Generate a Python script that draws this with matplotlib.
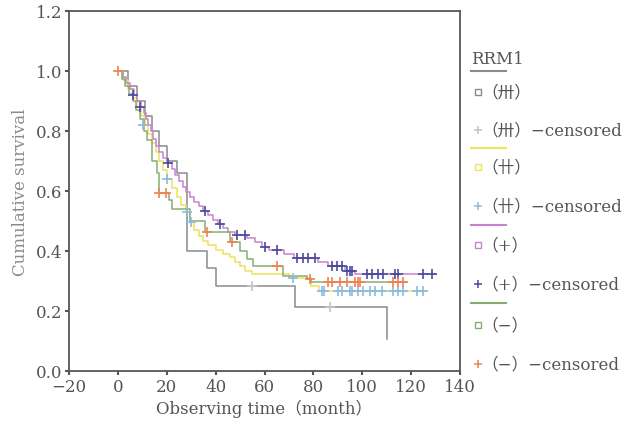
import matplotlib
matplotlib.use("Agg")
import matplotlib.pyplot as plt
from matplotlib.lines import Line2D
import numpy as np

# ---------------- data ----------------
groups = ["（卅）", "（卄）", "（+）", "（−）"]

# (卅)
t_g1 = [0, 4, 8, 11, 14, 17, 20, 24, 28.3, 36.4, 40.1, 72.4, 110]
s_g1 = [1.0, 0.95, 0.90, 0.85, 0.80, 0.75, 0.70, 0.66, 0.40, 0.343, 0.283, 0.213, 0.107]
ct_g1 = [54.8, 86.7]
cs_g1 = [0.283, 0.213]

# (卄)
t_g2 = [0, 2, 4, 6, 8, 9.5, 11, 12.5, 14, 15.5, 17, 18.5, 20, 22, 24, 26, 28, 29.5,
        31, 33, 35, 37, 40, 43, 46, 48, 50, 52, 55, 70, 79, 82.5, 126]
s_g2 = [1.0, 0.97, 0.94, 0.91, 0.88, 0.85, 0.82, 0.79, 0.76, 0.73, 0.70, 0.67, 0.64,
        0.61, 0.58, 0.555, 0.53, 0.497, 0.47, 0.45, 0.435, 0.42, 0.405, 0.39, 0.38,
        0.365, 0.35, 0.335, 0.322, 0.31, 0.283, 0.267, 0.267]
ct_g2 = [10.3, 20, 28.3, 29.9, 71.6, 83.5, 84.5, 90, 91.7, 95, 96, 98.2, 100.2, 103,
         105.2, 108, 112.5, 114.6, 116.6, 122.3, 124.8]
cs_g2 = [0.82, 0.64, 0.53, 0.497, 0.31, 0.267, 0.267, 0.267, 0.267, 0.267, 0.267,
         0.267, 0.267, 0.267, 0.267, 0.267, 0.267, 0.267, 0.267, 0.267, 0.267]

# (+)
t_g3 = [0, 2, 3.5, 5, 6.5, 8, 9.5, 10.5, 11.5, 12.5, 13.5, 14.5, 15.5, 17, 18.5, 20,
        22, 23.5, 25, 26.5, 28, 29.5, 31, 33, 35, 37, 39, 41, 43, 45, 48, 53, 56, 59,
        62, 68, 72, 82, 86, 93, 97, 130]
s_g3 = [1.0, 0.98, 0.96, 0.94, 0.92, 0.90, 0.88, 0.86, 0.84, 0.82, 0.80, 0.775, 0.75,
        0.73, 0.71, 0.695, 0.675, 0.655, 0.635, 0.615, 0.597, 0.58, 0.565, 0.55, 0.535,
        0.52, 0.505, 0.49, 0.478, 0.465, 0.455, 0.445, 0.43, 0.415, 0.405, 0.39, 0.378,
        0.365, 0.35, 0.335, 0.323, 0.323]
ct_g3 = [6, 9, 20.5, 35.6, 41.8, 48.7, 52, 60, 65, 73.3, 75.8, 77.8, 80.6, 87.5, 89.6,
         91.7, 93.7, 95, 96, 102, 104, 106.4, 108.4, 113.3, 114.6, 124.8, 128.5]
cs_g3 = [0.92, 0.88, 0.695, 0.535, 0.49, 0.455, 0.455, 0.415, 0.405, 0.378, 0.378,
         0.378, 0.378, 0.35, 0.35, 0.35, 0.335, 0.335, 0.335, 0.323, 0.323, 0.323,
         0.323, 0.323, 0.323, 0.323, 0.323]

# (−)
t_g4 = [0, 1.5, 3, 4.5, 6, 7.5, 9, 10.5, 12, 14, 16, 16.8, 21, 22, 29.5, 35.6, 45.8,
        50, 53, 55.3, 67.5, 77.3, 79, 118]
s_g4 = [1.0, 0.975, 0.95, 0.925, 0.90, 0.87, 0.84, 0.80, 0.77, 0.70, 0.66, 0.595,
        0.57, 0.54, 0.50, 0.463, 0.43, 0.40, 0.373, 0.35, 0.317, 0.307, 0.297, 0.297]
ct_g4 = [0, 17, 19.5, 36.4, 46.7, 65, 78.6, 86, 87.6, 90.9, 93.7, 97, 98.2, 99, 112.5,
         114.6, 116.6]
cs_g4 = [1.0, 0.595, 0.595, 0.463, 0.43, 0.35, 0.307, 0.297, 0.297, 0.297, 0.297,
         0.297, 0.297, 0.297, 0.297, 0.297, 0.297]

x_ticks = [-20, 0, 20, 40, 60, 80, 100, 120, 140]
y_ticks = [0.0, 0.2, 0.4, 0.6, 0.8, 1.0, 1.2]

# ---------------- style ----------------
line_colors = ["#8a8a8e", "#eee35a", "#c784cc", "#86ad72"]
cens_colors = ["#c4c4c4", "#8cbbe2", "#4a4aa0", "#f08252"]
axis_col = "#55555f"
text_col = "#555555"
serif = ["DejaVu Serif", "Noto Sans CJK SC"]

W, H = 626, 431
fig = plt.figure(figsize=(W / 100, H / 100), dpi=100)
ax = fig.add_axes([69 / W, 1 - 372 / H, (460 - 69) / W, (372 - 12) / H])

data = [(t_g1, s_g1, ct_g1, cs_g1), (t_g2, s_g2, ct_g2, cs_g2),
        (t_g3, s_g3, ct_g3, cs_g3), (t_g4, s_g4, ct_g4, cs_g4)]
for (t, s, ct, cs), lc, cc in zip(data, line_colors, cens_colors):
    ax.step(t, s, where="post", color=lc, lw=1.1, zorder=2)
for (t, s, ct, cs), lc, cc in zip(data, line_colors, cens_colors):
    ax.plot(ct, cs, ls="none", marker="+", ms=6.5, mew=1.2, color=cc, zorder=3)

ax.set_xlim(-20, 140)
ax.set_ylim(0, 1.2)
ax.set_xticks(x_ticks)
ax.set_yticks(y_ticks)
ax.set_xticklabels([f"{v}".replace("-", "−") for v in x_ticks], family=serif,
                   fontsize=12, color=text_col)
ax.set_yticklabels([f"{v:.1f}" for v in y_ticks], family=serif, fontsize=12,
                   color=text_col)
ax.tick_params(axis="both", direction="out", length=3, width=1.5, color=axis_col, pad=2)
for sp in ax.spines.values():
    sp.set_color(axis_col)
    sp.set_linewidth(1.3)

ax.set_xlabel("Observing time（month）", family=serif, fontsize=12, color=text_col,
              labelpad=3)
ax.set_ylabel("Cumulative survival", family=serif, fontsize=12, color="#8a8a8a",
              labelpad=5)

# ---------------- legend (manual, outside right) ----------------
def fx(px):
    return px / W

def fy(py):
    return 1 - py / H

fig.text(fx(471), fy(60), "RRM1", family=serif, fontsize=12, color=text_col,
         va="center", ha="left")
sep_y = [72, 149, 226, 304]
lab_y = [(93, 131), (168, 207), (246, 285), (326, 365)]
for g, lc, cc, sy, (y1, y2) in zip(groups, line_colors, cens_colors, sep_y, lab_y):
    fig.add_artist(Line2D([fx(471), fx(506)], [fy(sy), fy(sy)], color=lc, lw=1.5,
                          transform=fig.transFigure))
    fig.add_artist(Line2D([fx(478)], [fy(y1)], marker="s", ms=4, mfc="none", mec=lc,
                          mew=1.0, ls="none", transform=fig.transFigure))
    fig.text(fx(481), fy(y1), g, family=serif, fontsize=12, color=text_col,
             va="center", ha="left")
    fig.add_artist(Line2D([fx(478)], [fy(y2)], marker="+", ms=6, mew=1.1, mec=cc,
                          ls="none", transform=fig.transFigure))
    fig.text(fx(481), fy(y2), g + "−censored", family=serif, fontsize=12,
             color=text_col, va="center", ha="left")

fig.savefig("out.png", dpi=100)
